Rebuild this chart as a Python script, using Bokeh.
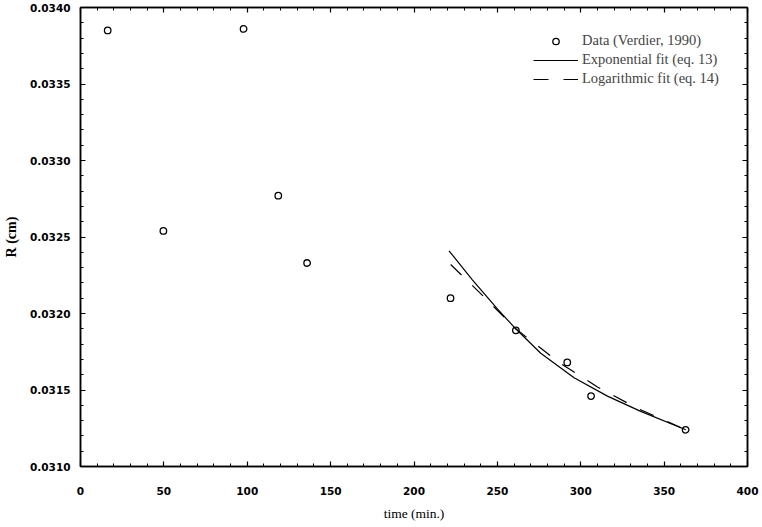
from bokeh.plotting import figure
from bokeh.models import (Range1d, LinearAxis, FixedTicker, PrintfTickFormatter,
                          CustomJSTickFormatter, Legend, LegendItem)
from bokeh.embed import file_html
from bokeh.resources import INLINE

# ---- data ----
data_time = [16.3, 49.7, 97.8, 118.6, 135.9, 221.9, 261.1, 291.9, 306.2, 362.9]
data_r = [0.03385, 0.03254, 0.03386, 0.03277, 0.03233, 0.03210, 0.03189, 0.03168, 0.03146, 0.03124]

exp_time = [221, 235, 250, 261, 276, 296, 316, 336, 363]
exp_r = [0.03241, 0.03222, 0.03203, 0.03190, 0.03174, 0.03158, 0.03146, 0.03136, 0.03124]

log_time = [222, 240, 261, 287, 310, 334, 363]
log_r = [0.03232, 0.03213, 0.03190, 0.03168, 0.03152, 0.03138, 0.03124]

x_ticks = [0, 50, 100, 150, 200, 250, 300, 350, 400]
y_ticks = [0.0310, 0.0315, 0.0320, 0.0325, 0.0330, 0.0335, 0.0340]

x_minor = [x_ticks[i] + k * 10 for i in range(len(x_ticks) - 1) for k in range(1, 5)]
y_minor = [y_ticks[i] + k * 0.0001 for i in range(len(y_ticks) - 1) for k in range(1, 5)]

p = figure(width=762, height=527,
           x_range=Range1d(0, 400), y_range=Range1d(0.0310, 0.0340),
           output_backend="svg", toolbar_location=None,
           min_border_left=76, min_border_right=15,
           min_border_top=7, min_border_bottom=61,
           x_axis_label="time (min.)", y_axis_label="R (cm)")

p.xgrid.visible = False
p.ygrid.visible = False
p.outline_line_color = "black"
p.outline_line_width = 1.5

xt = FixedTicker(ticks=x_ticks, minor_ticks=x_minor)
yt = FixedTicker(ticks=y_ticks, minor_ticks=y_minor)
p.xaxis.ticker = xt
p.yaxis.ticker = yt
p.yaxis.formatter = PrintfTickFormatter(format="%.4f")

for ax in (p.xaxis[0], p.yaxis[0]):
    ax.major_label_text_font = "DejaVu Sans"
    ax.major_label_text_font_style = "bold"
    ax.major_label_text_font_size = "10.5px"
    ax.major_label_text_color = "black"
    ax.axis_label_text_font = "Liberation Serif"
    ax.axis_label_text_font_style = "normal"
    ax.axis_label_text_font_size = "13.5px"
    ax.axis_label_text_color = "black"
    ax.axis_label_standoff = 8
    ax.axis_line_width = 1.5
    ax.major_tick_in = 5
    ax.major_tick_out = 0
    ax.minor_tick_in = 3
    ax.minor_tick_out = 0
    ax.major_tick_line_width = 1.2
    ax.minor_tick_line_width = 1

p.yaxis.axis_label_text_font_style = "bold"
p.yaxis.axis_label_text_font_size = "14px"
p.yaxis.major_label_text_baseline = "top"
p.xaxis.major_label_standoff = 20
p.yaxis.major_label_standoff = 10

empty = CustomJSTickFormatter(code="return ''")
for side, tk in (("right", yt), ("above", xt)):
    ax = LinearAxis(ticker=tk, formatter=empty, major_label_standoff=0,
                    major_tick_in=5, major_tick_out=0, minor_tick_in=3, minor_tick_out=0,
                    axis_line_width=1.5, major_tick_line_width=1.2)
    p.add_layout(ax, side)

r_exp = p.line(exp_time, exp_r, line_color="black", line_width=1.2)
r_log = p.line(log_time, log_r, line_color="black", line_width=1.2, line_dash="15 15")
r_data = p.scatter(data_time, data_r, marker="circle", size=6.5, fill_color=None,
                   line_color="black", line_width=1.3)

legend = Legend(items=[LegendItem(label="Data (Verdier, 1990)", renderers=[r_data]),
                       LegendItem(label="Exponential fit (eq. 13)", renderers=[r_exp]),
                       LegendItem(label="Logarithmic fit (eq. 14)", renderers=[r_log])],
                location=(453, 379), glyph_width=45, glyph_height=16, label_height=16,
                label_standoff=4, spacing=2, padding=0, margin=0,
                border_line_color=None, background_fill_alpha=0,
                label_text_font="Liberation Serif", label_text_font_size="14.5px")
p.add_layout(legend)

open("out.html", "w").write(file_html(p, INLINE))
